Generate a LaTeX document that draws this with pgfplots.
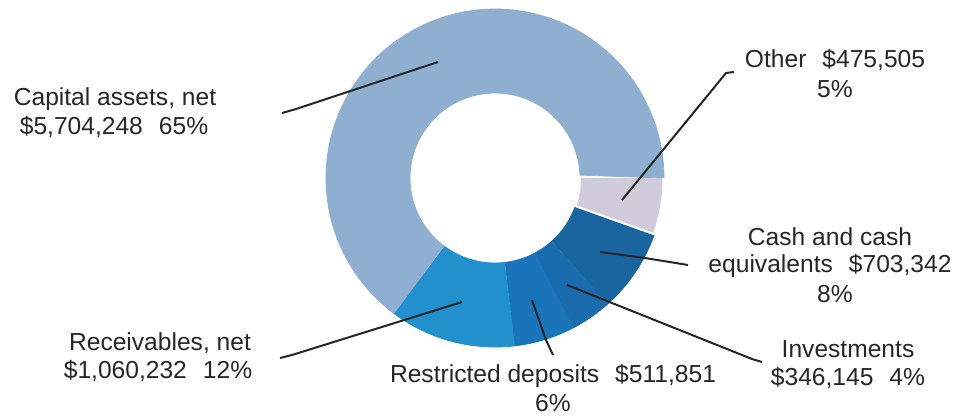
\documentclass[border=0pt]{standalone}
\usepackage{fontspec}
\setmainfont{Liberation Sans}
\usepackage{pgfplots}
\pgfplotsset{compat=1.18}
\definecolor{cCap}{HTML}{8EAFCF}
\definecolor{cOth}{HTML}{D0CCDC}
\definecolor{cCash}{HTML}{1865A0}
\definecolor{cInv}{HTML}{1A6CAE}
\definecolor{cRes}{HTML}{1A74BA}
\definecolor{cRec}{HTML}{2290CC}
\definecolor{txt}{HTML}{262626}
\newcommand\lbl{\fontsize{12.3}{14}\selectfont\color{txt}}
\newcommand\gap{\hspace{0.65em}}
\newcommand\donutwedge[4]{%
  \addplot[fill=#3, draw=#4, line width=0.4pt, domain=0:2, samples=241, variable=\t]
  ({495+(\t<=1 ? 169 : 85)*cos(\t<=1 ? #1+(#2-#1)*\t : #2+(#1-#2)*(\t-1))},
   {178-(\t<=1 ? 169 : 85)*sin(\t<=1 ? #1+(#2-#1)*\t : #2+(#1-#2)*(\t-1))});
}
\begin{document}
\begin{tikzpicture}
% values in thousands of dollars, clockwise from 3 o'clock
\pgfmathsetmacro\vOth{475.505}
\pgfmathsetmacro\vCash{703.342}
\pgfmathsetmacro\vInv{346.145}
\pgfmathsetmacro\vRes{511.851}
\pgfmathsetmacro\vRec{1060.232}
\pgfmathsetmacro\vCap{5704.248}
\pgfmathsetmacro\tot{\vOth+\vCash+\vInv+\vRes+\vRec+\vCap}
\pgfmathsetmacro\aA{0}
\pgfmathsetmacro\aB{\aA-360*(\vOth/\tot)}
\pgfmathsetmacro\aC{\aB-360*(\vCash/\tot)}
\pgfmathsetmacro\aD{\aC-360*(\vInv/\tot)}
\pgfmathsetmacro\aE{\aD-360*(\vRes/\tot)}
\pgfmathsetmacro\aF{\aE-360*(\vRec/\tot)}
\pgfmathsetmacro\aG{\aF-360*(\vCap/\tot)}
\begin{axis}[x=0.5pt, y=0.5pt, xmin=0, xmax=959, ymin=0, ymax=419,
  y dir=reverse, hide axis, clip=false]
\addplot[draw=none, fill=white] coordinates {(0,0) (959,0) (959,419) (0,419)} -- cycle;
\donutwedge{\aB}{\aC}{cCash}{cCash}
\donutwedge{\aC}{\aD}{cInv}{cInv}
\donutwedge{\aD}{\aE}{cRes}{cRes}
\donutwedge{\aE}{\aF}{cRec}{cRec}
\donutwedge{\aF}{\aG}{cCap}{cCap}
\addplot[fill=cOth, draw=white, line width=1pt, domain=0:2, samples=241, variable=\t]
  ({495+(\t<=1 ? 168.5 : 85)*cos(\t<=1 ? \aA+(\aB-\aA)*\t : \aB+(\aA-\aB)*(\t-1))},
   {178-(\t<=1 ? 168.5 : 85)*sin(\t<=1 ? \aA+(\aB-\aA)*\t : \aB+(\aA-\aB)*(\t-1))});
% leader lines
\addplot[draw=txt, line width=1pt] coordinates {(282,113) (296,109) (438,62)};
\addplot[draw=txt, line width=1pt] coordinates {(734,72) (726,73) (622,200)};
\addplot[draw=txt, line width=1pt] coordinates {(600,252) (645,258) (688,265)};
\addplot[draw=txt, line width=1pt] coordinates {(567,285) (752,359) (762,362)};
\addplot[draw=txt, line width=1pt] coordinates {(532,300) (546,340) (553,355)};
\addplot[draw=txt, line width=1pt] coordinates {(280,358) (292,355) (462,302)};
% labels
\node[anchor=base, font=\lbl] at (axis cs:115,105) {Capital assets, net};
\node[anchor=base, font=\lbl] at (axis cs:114,134) {\$5,704,248\gap 65\%};
\node[anchor=base, font=\lbl] at (axis cs:835,67) {Other\gap \$475,505};
\node[anchor=base, font=\lbl] at (axis cs:835,97) {5\%};
\node[anchor=base, font=\lbl] at (axis cs:830,245) {Cash and cash};
\node[anchor=base, font=\lbl] at (axis cs:830,272) {equivalents\gap \$703,342};
\node[anchor=base, font=\lbl] at (axis cs:835,302) {8\%};
\node[anchor=base, font=\lbl] at (axis cs:848,357) {Investments};
\node[anchor=base, font=\lbl] at (axis cs:848,385) {\$346,145\gap 4\%};
\node[anchor=base, font=\lbl] at (axis cs:553,382) {Restricted deposits\gap \$511,851};
\node[anchor=base, font=\lbl] at (axis cs:553,411) {6\%};
\node[anchor=base, font=\lbl] at (axis cs:160,350) {Receivables, net};
\node[anchor=base, font=\lbl] at (axis cs:158,378) {\$1,060,232\gap 12\%};
\end{axis}
\end{tikzpicture}
\end{document}
